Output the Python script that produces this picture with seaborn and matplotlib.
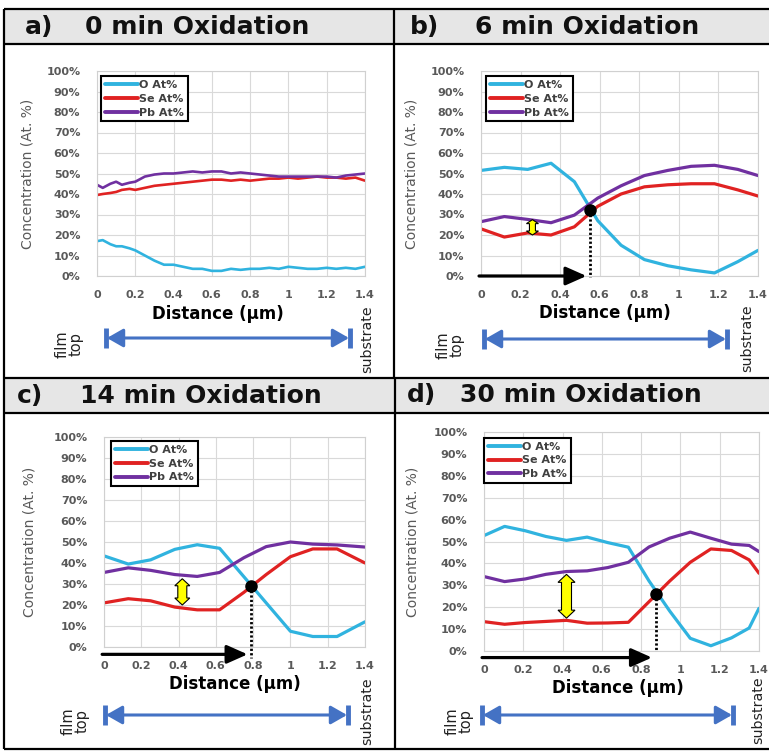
import numpy as np
import pandas as pd
import matplotlib
matplotlib.use("Agg")
import matplotlib.pyplot as plt
import seaborn as sns
from matplotlib.patches import Rectangle, Polygon

# ---------------- data ----------------
ELEMENTS = ["O At%", "Se At%", "Pb At%"]
COLORS = {"O At%": "#30b3df", "Se At%": "#e02222", "Pb At%": "#7030a0"}
XTICKS = [0, 0.2, 0.4, 0.6, 0.8, 1.0, 1.2, 1.4]
XTICK_LABELS = ["0", "0.2", "0.4", "0.6", "0.8", "1", "1.2", "1.4"]
YTICKS = [0, 10, 20, 30, 40, 50, 60, 70, 80, 90, 100]
YTICK_LABELS = ["0%", "10%", "20%", "30%", "40%", "50%", "60%", "70%", "80%", "90%", "100%"]
TITLES = ["0 min Oxidation", "6 min Oxidation", "14 min Oxidation", "30 min Oxidation"]
LETTERS = ["a)", "b)", "c)", "d)"]

# a) 0 min
x_a = [0, 0.03, 0.07, 0.1, 0.13, 0.17, 0.2, 0.25, 0.3, 0.35, 0.4, 0.45, 0.5, 0.55, 0.6,
       0.65, 0.7, 0.75, 0.8, 0.85, 0.9, 0.95, 1.0, 1.05, 1.1, 1.15, 1.2, 1.25, 1.3, 1.35, 1.4]
o_a = [17, 17.5, 15.5, 14.5, 14.5, 13.5, 12.5, 10, 7.5, 5.5, 5.5, 4.5, 3.5, 3.5, 2.5,
       2.5, 3.5, 3, 3.5, 3.5, 4, 3.5, 4.5, 4, 3.5, 3.5, 4, 3.5, 4, 3.5, 4.5]
se_a = [39.5, 40, 40.5, 41, 42, 42.5, 42, 43, 44, 44.5, 45, 45.5, 46, 46.5, 47,
        47, 46.5, 47, 46.5, 47, 47.5, 47.5, 48, 47.5, 48, 48.5, 48, 48, 47.5, 48, 46.5]
pb_a = [44.5, 43, 45, 46, 44.5, 45.5, 46, 48.5, 49.5, 50, 50, 50.5, 51, 50.5, 51,
        51, 50, 50.5, 50, 49.5, 49, 48.5, 48.5, 48.5, 48.5, 48.5, 48.5, 48, 49, 49.5, 50]

# b) 6 min
x_b = [0, 0.118, 0.236, 0.354, 0.472, 0.59, 0.708, 0.826, 0.944, 1.062, 1.18, 1.298, 1.4]
o_b = [51.5, 53, 52, 55, 46, 27, 15, 8, 5, 3, 1.5, 7, 12.5]
se_b = [23, 19, 21, 20, 24, 34, 40, 43.5, 44.5, 45, 45, 42, 39]
pb_b = [26.5, 29, 27.6, 26, 29.7, 38, 44, 49, 51.5, 53.5, 54, 52, 49]

# c) 14 min
x_c = [0, 0.13, 0.25, 0.38, 0.5, 0.62, 0.75, 0.87, 1.0, 1.12, 1.25, 1.4]
o_c = [43.4, 39.5, 41.5, 46.5, 48.7, 47, 33.5, 21, 7.5, 5, 5, 12]
se_c = [21, 23, 22, 19, 17.7, 17.7, 26, 34.5, 43, 46.7, 46.7, 40]
pb_c = [35.5, 37.7, 36.5, 34.5, 33.6, 35.5, 42.5, 47.8, 50, 49, 48.6, 47.6]

# d) 30 min
x_d = [0, 0.105, 0.21, 0.315, 0.42, 0.525, 0.63, 0.735, 0.84, 0.945, 1.05, 1.155, 1.26, 1.35, 1.4]
o_d = [52.7, 56.9, 54.9, 52.3, 50.5, 52, 49.5, 47.4, 32, 18.3, 5.8, 2.4, 6, 10.5, 19.5]
se_d = [13.4, 12.2, 13, 13.5, 14, 12.7, 12.8, 13.1, 22.5, 31.9, 40.5, 46.6, 45.9, 41.6, 35.5]
pb_d = [34, 31.7, 32.9, 35, 36.3, 36.6, 38.1, 40.5, 47.5, 51.5, 54.3, 51.5, 48.8, 48.2, 45.4]

# annotations (b, c, d): crossing point, black-arrow level, yellow arrow
cross_x = [0.553, 0.79, 0.875]
cross_y = [32, 29, 26]
arrow_level = [0, -3.5, -3]
dotted_bottom = [-0.5, -5, 0]
yellow_x = [0.26, 0.42, 0.42]
yellow_lo = [20, 20, 15]
yellow_hi = [27.5, 32.5, 35]

# ---------------- figure ----------------
sns.set_theme(style="white")
plt.rcParams["font.family"] = ["DejaVu Sans"]

W, H = 769, 752
fig = plt.figure(figsize=(W / 100, H / 100), dpi=100)
fig.patch.set_facecolor("white")

ov = fig.add_axes([0, 0, 1, 1], zorder=0)
ov.set_xlim(0, W)
ov.set_ylim(H, 0)
ov.axis("off")

# header bars
for ytop in (9, 378):
    ov.add_patch(Rectangle((4, ytop), W - 4, 35, fc="#e6e6e6", ec="none"))
# borders
blk = dict(color="black", lw=1.6, solid_capstyle="butt")
for yy in (9, 44, 378, 413, 749):
    ov.plot([4, W], [yy, yy], **blk)
ov.plot([4, 4], [9, 749], **blk)
ov.plot([394, 394], [9, 378], **blk)
ov.plot([395, 395], [378, 749], **blk)

# header texts
head_pos = [(25, 85, 27), (410, 475, 27), (17, 80, 396), (407, 460, 395)]
for (lx, tx, ty), let, tit in zip(head_pos, LETTERS, TITLES):
    ov.text(lx, ty, let, fontsize=18, fontweight="bold", va="center", ha="left", color="#111111")
    ov.text(tx, ty, tit, fontsize=18, fontweight="bold", va="center", ha="left", color="#111111")

# film top / substrate arrows
film = [(106, 350, 338, 69, 367, 339), (484, 727, 339, 450, 747, 338),
        (105, 348, 715, 75, 367, 711), (482, 733, 715, 459, 758, 710)]
blue = "#4472c4"
for x0, x1, yy, fx, sx, sy in film:
    ov.annotate("", xy=(x1 - 1, yy), xytext=(x0 + 1, yy),
                arrowprops=dict(arrowstyle="<|-|>,head_length=0.7,head_width=0.4",
                                color=blue, lw=2.2, shrinkA=0, shrinkB=0, mutation_scale=14))
    ov.plot([x0, x0], [yy - 10, yy + 10], color=blue, lw=3.5, solid_capstyle="butt")
    ov.plot([x1, x1], [yy - 10, yy + 10], color=blue, lw=3.5, solid_capstyle="butt")
    ov.text(fx, yy + 6, "film\ntop", rotation=90, fontsize=10.5, ha="center", va="center",
            linespacing=0.95, color="#222222")
    ov.text(sx, sy, "substrate", rotation=90, fontsize=10.2, ha="center", va="center", color="#222222")

# ---------------- data panels ----------------
boxes = [(97, 365, 71, 276), (481, 758, 71, 276), (104, 365, 437, 647), (484, 759, 432, 651)]
legend_anchor = [(0.014, 0.976), (0.017, 0.976), (0.027, 0.982), (0.0, 0.974)]
ylabel_x = [-0.235, -0.227, -0.257, -0.233]
xlabel_pos = [(0.451, -0.185), (0.447, -0.18), (0.502, -0.176), (0.485, -0.169)]
series = [(x_a, o_a, se_a, pb_a), (x_b, o_b, se_b, pb_b), (x_c, o_c, se_c, pb_c), (x_d, o_d, se_d, pb_d)]


def px_axes(l, r, t, b):
    return fig.add_axes([l / W, 1 - b / H, (r - l) / W, (b - t) / H], zorder=2)


def double_arrow(ax, x, y0, y1, shaft_px, head_px, hl_px):
    pos = ax.get_position()
    sx = 1.4 / (pos.width * W)
    sy = 100 / (pos.height * H)
    s, hw, hl = shaft_px * sx, head_px * sx, hl_px * sy
    pts = [(x, y1), (x + hw, y1 - hl), (x + s, y1 - hl), (x + s, y0 + hl), (x + hw, y0 + hl),
           (x, y0), (x - hw, y0 + hl), (x - s, y0 + hl), (x - s, y1 - hl), (x - hw, y1 - hl)]
    ax.add_patch(Polygon(pts, closed=True, fc="#ffff00", ec="black", lw=0.8, zorder=6, clip_on=False))


yellow_sizes = [(3, 6, 4), (4.5, 7.5, 7), (5, 8.5, 8)]

for i, (box, (xs, o, se, pb)) in enumerate(zip(boxes, series)):
    ax = px_axes(*box)
    df = pd.DataFrame({
        "Distance": list(xs) * 3,
        "Conc": list(o) + list(se) + list(pb),
        "Element": [ELEMENTS[0]] * len(xs) + [ELEMENTS[1]] * len(xs) + [ELEMENTS[2]] * len(xs),
    })
    lw = 1.9 if i == 0 else 2.3
    sns.lineplot(data=df, x="Distance", y="Conc", hue="Element", hue_order=ELEMENTS,
                 palette=COLORS, linewidth=lw, estimator=None, ax=ax)
    ax.set_xlim(0, 1.4)
    ax.set_ylim(0, 100)
    ax.set_xticks(XTICKS)
    ax.set_xticklabels(XTICK_LABELS)
    ax.set_yticks(YTICKS)
    ax.set_yticklabels(YTICK_LABELS)
    ax.grid(True, color="#d9d9d9", lw=0.8)
    ax.set_axisbelow(True)
    for sp in ax.spines.values():
        sp.set_color("#d0d0d0")
        sp.set_linewidth(0.8)
    ax.tick_params(length=0, labelsize=8, labelcolor="#595959")
    ax.tick_params(axis="x", pad=10)
    ax.tick_params(axis="y", pad=12)
    for lbl in ax.get_xticklabels() + ax.get_yticklabels():
        lbl.set_fontweight("bold")
    ax.set_ylabel("Concentration (At. %)", fontsize=10, color="#595959")
    ax.yaxis.set_label_coords(ylabel_x[i], 0.5)
    ax.set_xlabel("Distance (\u03bcm)", fontsize=12, fontweight="bold", color="black")
    ax.xaxis.set_label_coords(*xlabel_pos[i])
    ax.xaxis.label.set_va("center")

    handles, labels = ax.get_legend_handles_labels()
    leg = ax.legend(handles, ELEMENTS, loc="upper left", bbox_to_anchor=legend_anchor[i],
                    borderaxespad=0, frameon=True, fancybox=False, framealpha=1,
                    edgecolor="black", prop={"weight": "bold", "size": 8},
                    handlelength=3.0, handletextpad=0.1, borderpad=0.35, labelspacing=0.35)
    leg.get_frame().set_linewidth(1.5)
    for t in leg.get_texts():
        t.set_color("#404040")
    for h in leg.legend_handles:
        h.set_linewidth(2.8)

    if i > 0:
        k = i - 1
        ax.annotate("", xy=(cross_x[k] - 0.02, arrow_level[k]), xytext=(-0.01, arrow_level[k]),
                    arrowprops=dict(arrowstyle="-|>,head_length=0.9,head_width=0.4", color="black",
                                    lw=2.3, shrinkA=0, shrinkB=0, mutation_scale=14),
                    annotation_clip=False, zorder=7)
        ax.plot([cross_x[k], cross_x[k]], [cross_y[k], dotted_bottom[k]], color="black",
                lw=2.0, ls=(0, (0.8, 0.8)), clip_on=False, zorder=7)
        ax.plot([cross_x[k]], [cross_y[k]], "o", color="black", ms=8, zorder=8)
        double_arrow(ax, yellow_x[k], yellow_lo[k], yellow_hi[k], *yellow_sizes[k])

fig.savefig("out.png", dpi=100)
